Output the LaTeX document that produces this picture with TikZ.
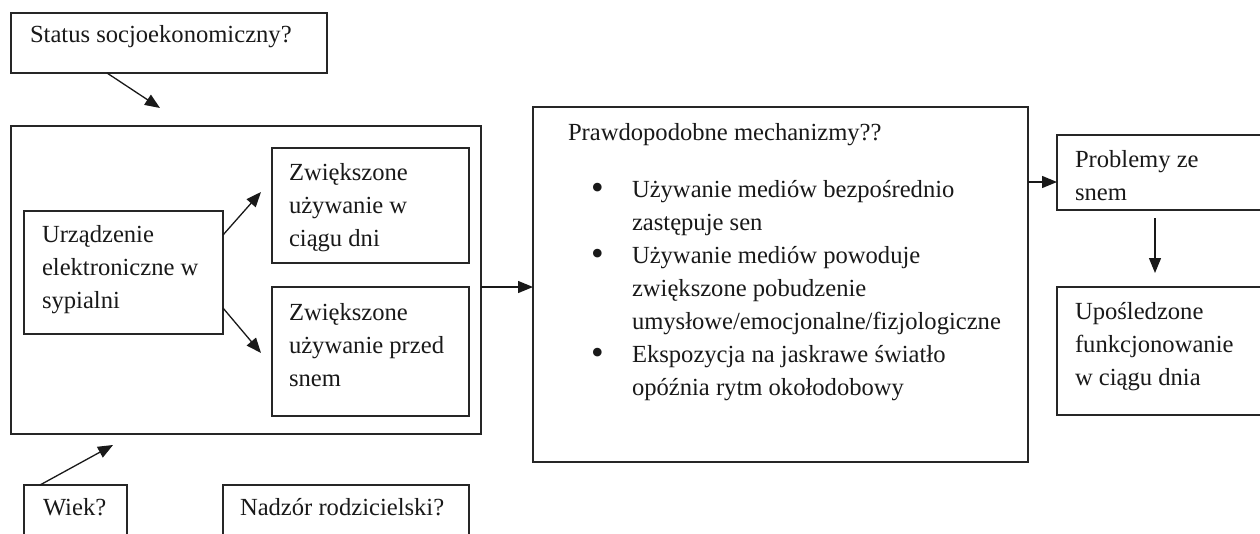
\documentclass[tikz,border=0pt]{standalone}
\usepackage{fontspec}
\setmainfont{Liberation Serif}
\usetikzlibrary{arrows.meta,calc}
\newcommand\bxtext[5]{\parbox[c][#2][t]{#1}{\raggedright\leftskip=#3\relax\parindent=0pt\vspace*{#4}\strut #5\par}}
\newcommand\bul{\par\hangindent=64pt\hangafter=1\noindent\makebox[64pt][l]{\hspace{23pt}\raisebox{-2.5pt}{\fontsize{36}{33}\selectfont\textbullet}}}
\tikzset{
  box/.style={draw=black!85, line width=1.2pt, inner sep=0pt, outer sep=0pt, anchor=north west,
    font=\fontsize{24.6}{33}\selectfont, text=black!90},
  arr/.style={-{Triangle[length=15pt,width=12pt]}, line width=1.3pt, draw=black!90}
}
\begin{document}
\begin{tikzpicture}[x=1pt,y=-1pt]
\fill[white] (0,0) rectangle (1260,533);
\useasboundingbox (0,0) rectangle (1260,533);

\node[box] (status) at (11,13) {\bxtext{316pt}{60pt}{19pt}{6pt}{Status socjoekonomiczny?}};

\node[box, minimum width=470pt, minimum height=308pt] (outer) at (11,126) {};

\node[box] (urz) at (24,211) {\bxtext{199pt}{123pt}{18pt}{8pt}{Urządzenie\newline elektroniczne w\newline sypialni}};
\node[box] (zw1) at (272,148) {\bxtext{197pt}{115pt}{17pt}{9pt}{Zwiększone\newline używanie w\newline ciągu dni}};
\node[box] (zw2) at (272,287) {\bxtext{197pt}{129pt}{17pt}{10pt}{Zwiększone\newline używanie przed\newline snem}};

\node[box] (mech) at (533,107) {\bxtext{495pt}{355pt}{35pt}{10pt}{Prawdopodobne mechanizmy??\par\vspace{24pt}%
\bul Używanie mediów bezpośrednio\newline zastępuje sen
\bul Używanie mediów powoduje\newline zwiększone pobudzenie\newline umysłowe/emocjonalne/fizjologiczne
\bul Ekspozycja na jaskrawe światło\newline opóźnia rytm okołodobowy}};

\node[box] (prob) at (1057,135) {\bxtext{215pt}{75pt}{18pt}{9pt}{Problemy ze\newline snem}};
\node[box] (upo) at (1057,287) {\bxtext{215pt}{128pt}{18pt}{9pt}{Upośledzone\newline funkcjonowanie\newline w ciągu dnia}};

\node[box] (wiek) at (24,485) {\bxtext{103pt}{70pt}{19pt}{7pt}{Wiek?}};
\node[box] (nadz) at (223,485) {\bxtext{246pt}{70pt}{17pt}{7pt}{Nadzór rodzicielski?}};

\coordinate (c1) at (160,108);
\coordinate (c2) at (113,445);
\coordinate (c3) at (261,192);
\coordinate (c4) at (261,353);
\coordinate (cm) at (500,287);
\coordinate (cp) at (1040,182);
\coordinate (c5) at (1155,273);

\draw[arr] ($(status.south west)+(96,0)$) -- (c1);
\draw[arr] ($(wiek.north west)+(16,0)$) -- (c2);
\draw[arr] ($(urz.north east)+(0,24)$) -- (c3);
\draw[arr] ($(urz.north east)+(0,97)$) -- (c4);
\draw[arr] (outer.east |- cm) -- (mech.west |- cm);
\draw[arr] (mech.east |- cp) -- (prob.west |- cp);
\draw[arr] ($(prob.south west)+(98,8)$) -- (c5);
\end{tikzpicture}
\end{document}
